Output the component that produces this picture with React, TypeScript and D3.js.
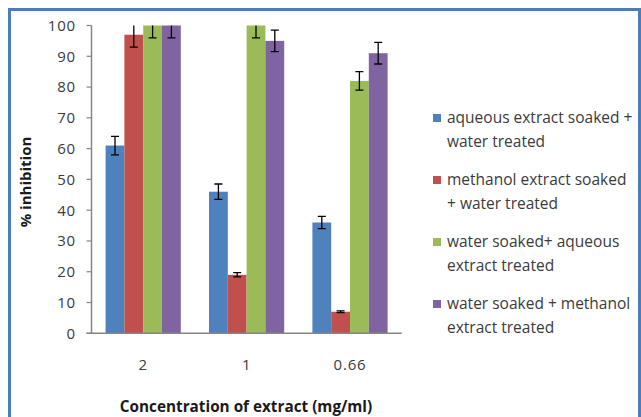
import React from "react";
import * as d3 from "d3";

// Concentration of extract (mg/ml)
const categories = ["2", "1", "0.66"];

const seriesNames = [
  "aqueous extract soaked + water treated",
  "methanol extract soaked + water treated",
  "water soaked+ aqueous extract treated",
  "water soaked + methanol extract treated",
];

// legend lines, wrapped as in the legend box
const legendLines = [
  ["aqueous extract soaked +", "water treated"],
  ["methanol extract soaked", "+ water treated"],
  ["water soaked+ aqueous", "extract treated"],
  ["water soaked + methanol", "extract treated"],
];

// % inhibition per series, one value per concentration
const aqueousWater = [61, 46, 36];
const methanolWater = [97, 19, 7];
const waterAqueous = [100, 100, 82];
const waterMethanol = [100, 95, 91];

// standard errors
const aqueousWaterErr = [3, 2.5, 2];
const methanolWaterErr = [4, 0.7, 0.3];
const waterAqueousErr = [4, 4, 3];
const waterMethanolErr = [4, 3.5, 3.5];

const yTicks = [0, 10, 20, 30, 40, 50, 60, 70, 80, 90, 100];

const colors = ["#4F81BD", "#C0504D", "#9BBB59", "#8064A2"];

const values = [aqueousWater, methanolWater, waterAqueous, waterMethanol];
const errors = [aqueousWaterErr, methanolWaterErr, waterAqueousErr, waterMethanolErr];

const W = 641;
const H = 417;
const plot = { left: 91.5, right: 401.7, top: 25.5, bottom: 333.3 };
const FONT = "'Open Sans', 'Liberation Sans', sans-serif";

export default function App() {
  const x = d3
    .scaleBand<string>()
    .domain(categories)
    .range([plot.left, plot.right])
    .paddingInner(0)
    .paddingOuter(0);
  const bw = x.bandwidth();
  const gapWidth = 1.5; // gap between groups, relative to one bar
  const groupW = (bw * seriesNames.length) / (seriesNames.length + gapWidth);
  const xs = d3
    .scaleBand<number>()
    .domain(d3.range(seriesNames.length))
    .range([(bw - groupW) / 2, (bw + groupW) / 2]);
  const y = d3.scaleLinear().domain([0, 100]).range([plot.bottom, plot.top]);

  const axisColor = "#868686";
  const textColor = "#3b3b3b";

  return (
    <svg
      width={W}
      height={H}
      style={{ position: "absolute", left: 0, top: 0, background: "#fff" }}
      fontFamily={FONT}
    >
      <rect x={0} y={0} width={W} height={H} fill="#fff" />
      {/* chart frame */}
      <rect
        x={9.5}
        y={9.5}
        width={630}
        height={430}
        fill="none"
        stroke="#4A7EBB"
        strokeWidth={3}
      />

      <defs>
        <clipPath id="plotClip">
          <rect x={plot.left} y={plot.top} width={plot.right - plot.left} height={plot.bottom - plot.top} />
        </clipPath>
      </defs>

      {/* bars */}
      {values.map((vals, s) =>
        vals.map((v, i) => (
          <rect
            key={`b${s}-${i}`}
            x={(x(categories[i]) as number) + (xs(s) as number)}
            y={y(v)}
            width={xs.bandwidth()}
            height={y(0) - y(v)}
            fill={colors[s]}
          />
        ))
      )}

      {/* error bars */}
      <g clipPath="url(#plotClip)" stroke="#000" strokeWidth={1.3}>
        {values.map((vals, s) =>
          vals.map((v, i) => {
            const cx = (x(categories[i]) as number) + (xs(s) as number) + xs.bandwidth() / 2;
            const e = errors[s][i];
            const y1 = y(v + e);
            const y2 = y(v - e);
            return (
              <g key={`e${s}-${i}`}>
                <line x1={cx} x2={cx} y1={y1} y2={y2} />
                <line x1={cx - 4} x2={cx + 4} y1={y1} y2={y1} />
                <line x1={cx - 4} x2={cx + 4} y1={y2} y2={y2} />
              </g>
            );
          })
        )}
      </g>

      {/* y axis */}
      <line x1={plot.left} x2={plot.left} y1={plot.top} y2={plot.bottom} stroke={axisColor} strokeWidth={1.5} />
      {yTicks.map((t) => (
        <g key={`t${t}`}>
          <line x1={plot.left - 5} x2={plot.left} y1={y(t)} y2={y(t)} stroke={axisColor} strokeWidth={1.2} />
          <text
            x={76}
            y={y(t)}
            dy="0.36em"
            textAnchor="end"
            fontSize={15}
            letterSpacing={0.8}
            fill={textColor}
          >
            {t}
          </text>
        </g>
      ))}

      {/* x axis */}
      <line x1={plot.left - 5} x2={plot.right} y1={plot.bottom} y2={plot.bottom} stroke={axisColor} strokeWidth={1.5} />
      {categories.map((c) => (
        <text
          key={`c${c}`}
          x={(x(c) as number) + bw / 2}
          y={365}
          dy="0.36em"
          textAnchor="middle"
          fontSize={15}
          letterSpacing={0.8}
          fill={textColor}
        >
          {c}
        </text>
      ))}

      {/* axis titles */}
      <text
        x={246}
        y={407}
        dy="0.35em"
        textAnchor="middle"
        fontSize={15.3}
        fontWeight="bold"
        fill="#1a1a1a"
      >
        Concentration of extract (mg/ml)
      </text>
      <text
        transform={`translate(26,182) rotate(-90)`}
        dy="0.35em"
        textAnchor="middle"
        fontSize={15}
        fontWeight="bold"
        fill="#1a1a1a"
      >
        % inhibition
      </text>

      {/* legend */}
      {legendLines.map((lines, s) => {
        const top = 118 + s * 62;
        return (
          <g key={`l${s}`}>
            <rect x={433} y={top - 4} width={8} height={8} fill={colors[s]} />
            {lines.map((ln, j) => (
              <text
                key={j}
                x={447}
                y={top + j * 24}
                dy="0.35em"
                fontSize={15.5}
                fill={textColor}
              >
                {ln}
              </text>
            ))}
          </g>
        );
      })}
    </svg>
  );
}
